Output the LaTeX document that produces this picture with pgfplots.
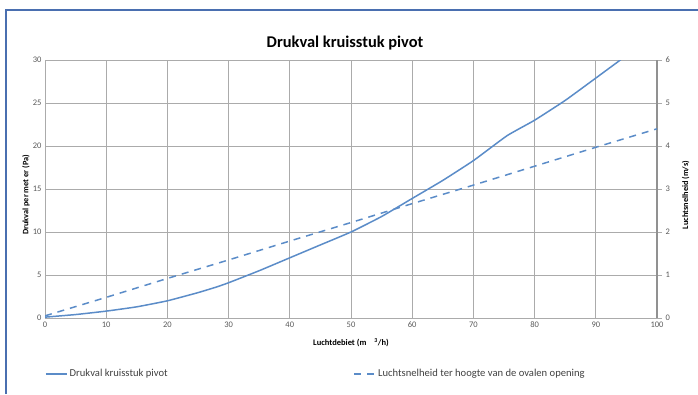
\documentclass[border=0pt]{standalone}
\usepackage{pgfplots}
\pgfplotsset{compat=1.18}
\usepackage{fontspec}
\setmainfont{Carlito}
\definecolor{lineblue}{HTML}{5B8CC8}
\definecolor{gridgray}{HTML}{ABABAB}
\definecolor{framecol}{HTML}{4A6FB0}
\definecolor{ticktext}{HTML}{595959}
\definecolor{legtext}{HTML}{404040}
\begin{document}
\begin{tikzpicture}
\useasboundingbox (0pt,0pt) rectangle (698pt,394pt);
\draw[framecol, line width=1.6pt] (6pt,0pt) -- (6pt,384pt) -- (698pt,384pt);
\node[font=\bfseries\fontsize{16.4}{18}\selectfont, text=black] at (345pt,351pt) {Drukval kruisstuk pivot};
\begin{axis}[
  at={(45pt,76pt)}, anchor=south west,
  scale only axis, width=612pt, height=258pt,
  xmin=0, xmax=100, ymin=0, ymax=30,
  xtick={0,10,...,100}, ytick={0,5,...,30},
  grid=major, major grid style={gridgray, line width=0.8pt},
  axis line style={gridgray, line width=0.8pt},
  axis y line*=left, axis x line*=bottom,
  major tick length=0pt,
  tick label style={font=\fontsize{8.5}{10}\selectfont, text=ticktext},
  /pgf/number format/assume math mode=true,
  xlabel={Luchtdebiet (m\hspace{8pt}\textsuperscript{3}/h)},
  xlabel style={at={(axis description cs:0.5,-0.097)}, anchor=center, font=\bfseries\fontsize{8.5}{10}\selectfont},
  ylabel={Drukval per met er (Pa)},
  ylabel style={at={(axis description cs:-0.031,0.477)}, anchor=center, rotate=0, font=\bfseries\fontsize{8.3}{10}\selectfont},
  clip=true,
]
\addplot[lineblue, line width=1.5pt, smooth, tension=0.25] coordinates {
(0,0.1) (5,0.4) (10,0.8) (15,1.3) (20,2.0) (25,2.95) (28,3.6) (30,4.1) (35,5.5) (40,7.0) (45,8.5) (50,10.0) (55,11.8) (60,13.9) (65,16.0) (70,18.3) (75.5,21.2) (80,23.0) (85,25.3) (90,27.9) (94,30.0) (95,30.6)
};
\end{axis}
\begin{axis}[
  at={(45pt,76pt)}, anchor=south west,
  scale only axis, width=612pt, height=258pt,
  xmin=0, xmax=100, ymin=0, ymax=6,
  ytick={0,1,...,6},
  axis x line=none,
  axis y line*=right,
  y axis line style={draw=gridgray!85!black, line width=1.4pt},
  ytick style={draw=gridgray, line width=0.8pt},
  tick align=outside, major tick length=5pt,
  tick label style={font=\fontsize{8.5}{10}\selectfont, text=ticktext},
  /pgf/number format/assume math mode=true,
  ylabel={Luchtsnelheid (m/s)},
  ylabel style={at={(axis description cs:1.047,0.477)}, anchor=center, rotate=0, font=\bfseries\fontsize{8.3}{10}\selectfont},
  legend columns=2,
  legend style={at={(0pt,-56pt)}, anchor=west, draw=none, fill=none, font=\fontsize{10.6}{12}\selectfont, text=legtext, inner xsep=0pt, inner ysep=0pt},
  legend cell align=left,
  legend image code/.code={\draw[#1] (0pt,0pt) -- (21pt,0pt);},
]
\addlegendimage{lineblue, line width=1.5pt}
\addlegendentry{\makebox[282pt][l]{Drukval kruisstuk pivot}}
\addplot[lineblue, line width=1.5pt, dash pattern=on 7pt off 6pt] coordinates {
(0,0.05) (10,0.48) (20,0.92) (30,1.35) (40,1.79) (50,2.22) (60,2.66) (70,3.09) (80,3.53) (90,3.97) (100,4.4)
};
\addlegendentry{Luchtsnelheid ter hoogte van de ovalen opening}
\end{axis}
\end{tikzpicture}
\end{document}
